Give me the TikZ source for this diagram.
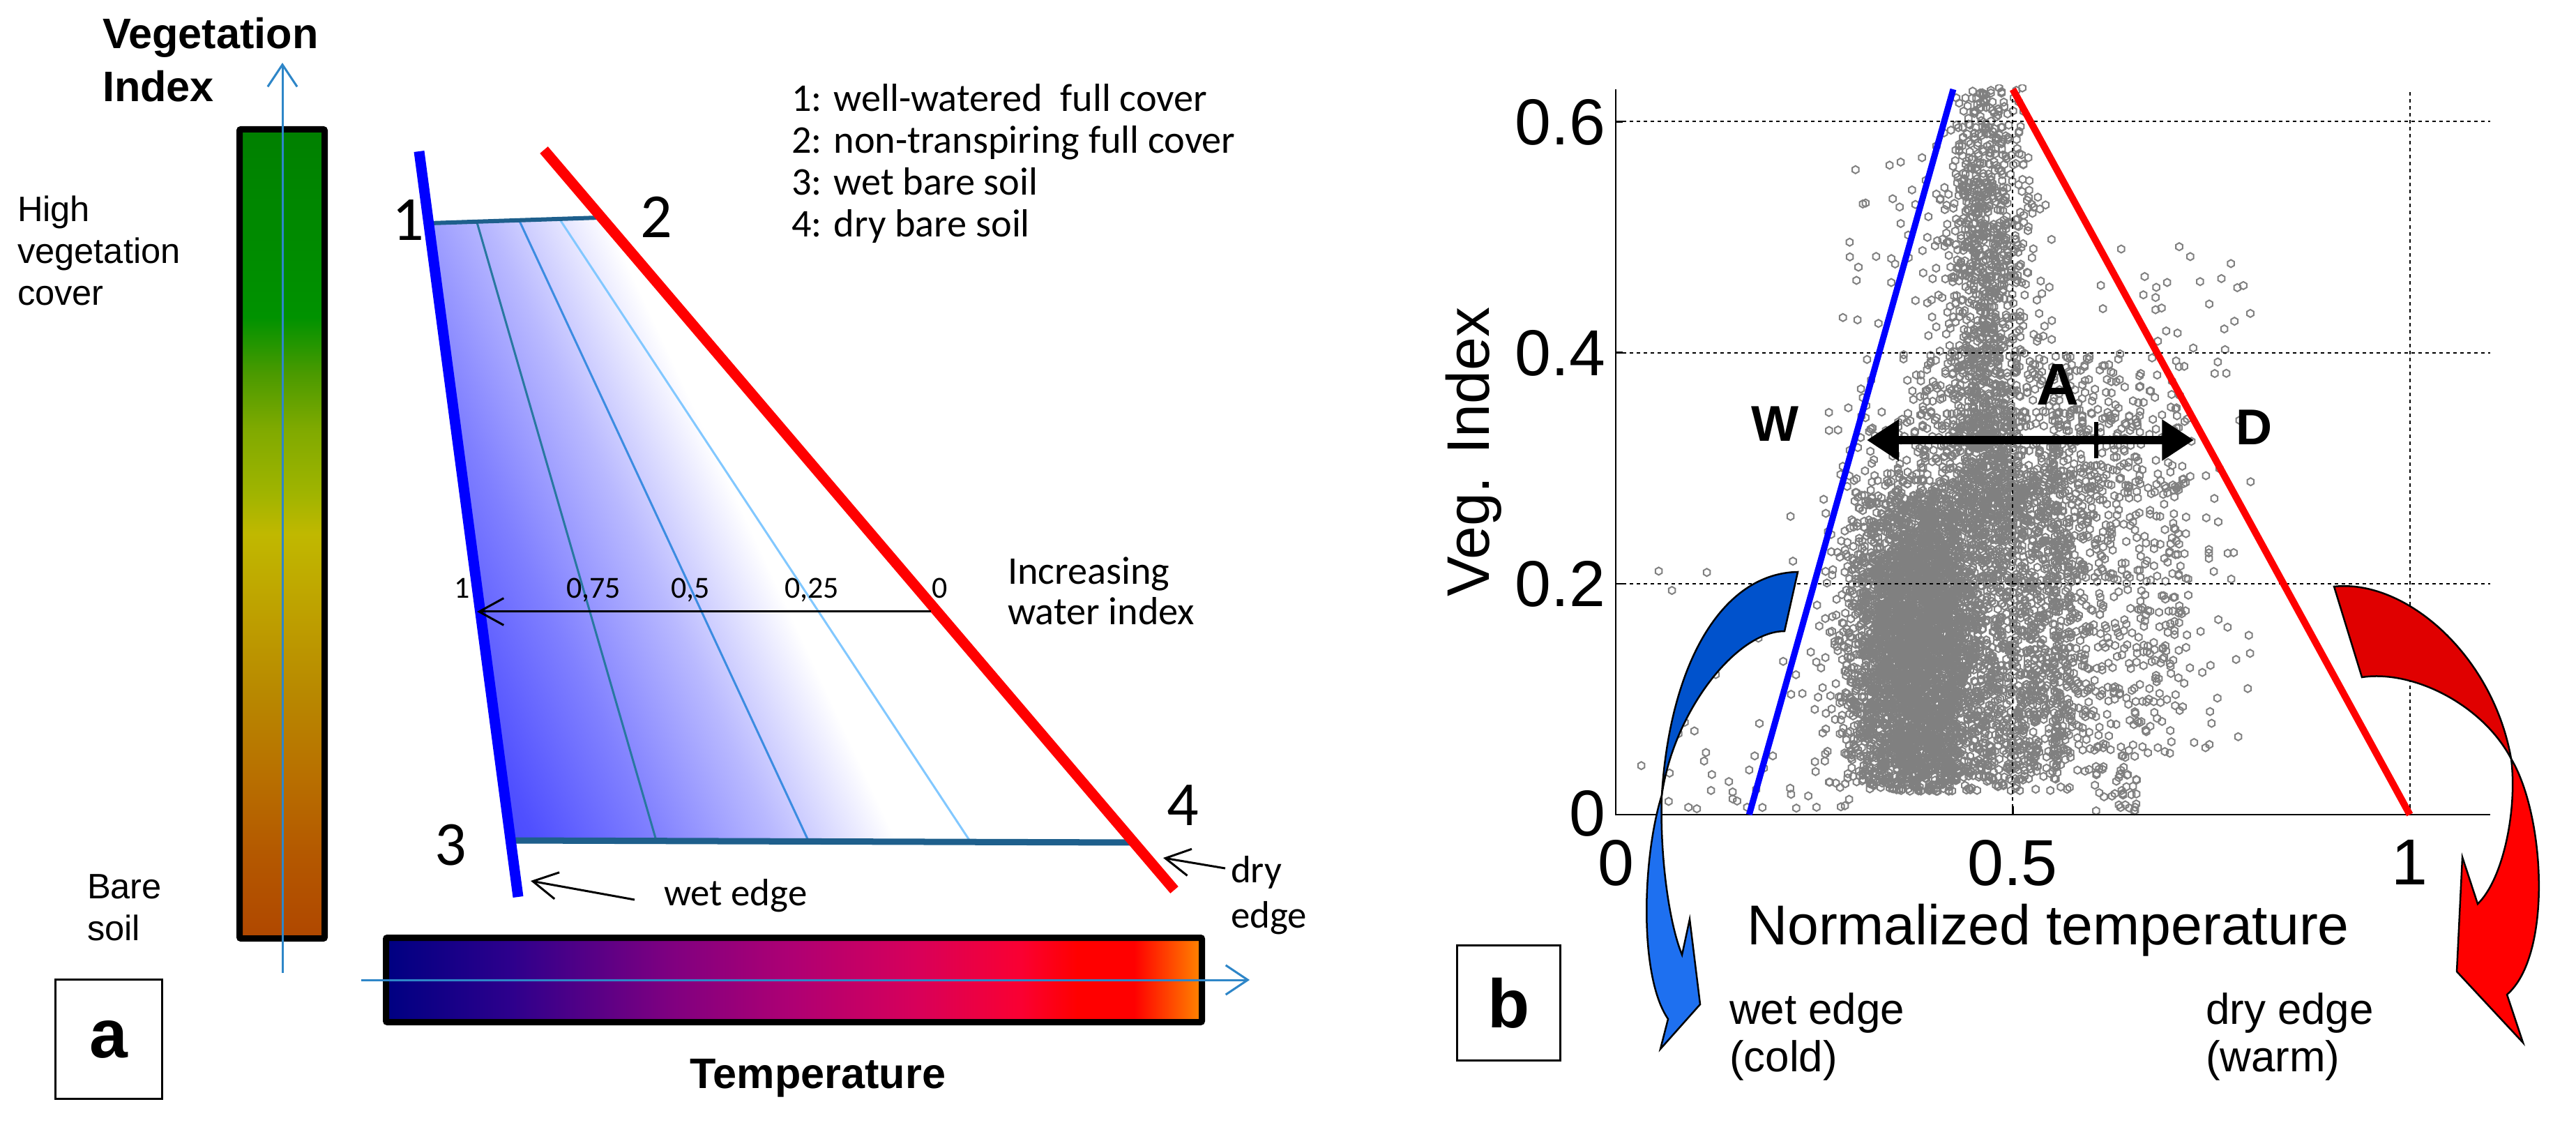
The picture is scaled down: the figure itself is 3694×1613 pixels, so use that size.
\documentclass[tikz,border=0pt]{standalone}
\usepackage{fontspec}
\setmainfont{Liberation Sans}
\newfontfamily\calfont{Carlito}
\usetikzlibrary{arrows.meta}
\newdimen\pxl \pxl=0.28453pt
% colours
\definecolor{axblue}{RGB}{46,134,200}
\definecolor{edgeblue}{RGB}{0,0,255}
\definecolor{edgered}{RGB}{255,0,0}
\definecolor{rimteal}{RGB}{30,95,140}
\definecolor{isoA}{RGB}{40,120,160}
\definecolor{isoB}{RGB}{60,140,225}
\definecolor{isoC}{RGB}{130,200,255}
\definecolor{cblueA}{RGB}{0,82,204}
\definecolor{cblueB}{RGB}{30,112,240}
\definecolor{credA}{RGB}{224,0,0}
\definecolor{credB}{RGB}{255,0,0}
\definecolor{scatgray}{RGB}{128,128,128}
\definecolor{vg0}{RGB}{176,72,0}
\definecolor{vg1}{RGB}{180,88,0}
\definecolor{vg2}{RGB}{184,112,0}
\definecolor{vg3}{RGB}{184,136,0}
\definecolor{vg4}{RGB}{190,160,0}
\definecolor{vg5}{RGB}{192,184,0}
\definecolor{vg6}{RGB}{160,180,0}
\definecolor{vg7}{RGB}{128,170,0}
\definecolor{vg8}{RGB}{74,154,0}
\definecolor{vg9}{RGB}{0,146,0}
\definecolor{vg10}{RGB}{0,128,0}
\definecolor{tp0}{RGB}{0,0,130}
\definecolor{tp1}{RGB}{45,0,140}
\definecolor{tp2}{RGB}{128,0,128}
\definecolor{tp3}{RGB}{175,0,115}
\definecolor{tp4}{RGB}{215,0,90}
\definecolor{tp5}{RGB}{250,0,50}
\definecolor{tp6}{RGB}{255,0,0}
\definecolor{tp7}{RGB}{255,0,0}
\definecolor{tp8}{RGB}{255,128,0}
\definecolor{ws0}{RGB}{60,60,255}
\definecolor{ws1}{RGB}{80,80,255}
\definecolor{ws2}{RGB}{128,128,255}
\definecolor{ws3}{RGB}{185,185,255}
\pgfdeclareverticalshading{vegshade}{100bp}{color(0bp)=(vg0); color(25bp)=(vg0); color(30bp)=(vg1); color(35bp)=(vg2); color(40bp)=(vg3); color(45bp)=(vg4); color(50bp)=(vg5); color(52.5bp)=(vg6); color(56.5bp)=(vg7); color(60bp)=(vg8); color(63.5bp)=(vg9); color(75bp)=(vg10); color(100bp)=(vg10)}
\pgfdeclarehorizontalshading{tempshade}{100bp}{color(0bp)=(tp0); color(25bp)=(tp0); color(32.5bp)=(tp1); color(42.5bp)=(tp2); color(50bp)=(tp3); color(57.5bp)=(tp4); color(64bp)=(tp5); color(67.5bp)=(tp6); color(71bp)=(tp7); color(75bp)=(tp8); color(100bp)=(tp8)}
\pgfdeclarehorizontalshading{wetshade}{100bp}{color(0bp)=(ws0); color(18bp)=(ws0); color(24bp)=(ws1); color(32bp)=(ws2); color(40bp)=(ws3); color(48bp)=(white); color(100bp)=(white)}
\tikzset{
 lbl/.style={inner sep=0pt, outer sep=0pt},
 axarrow/.style={draw=axblue, line width=3\pxl, -{Straight Barb[length=9pt,width=12pt]}},
 thinarrow/.style={draw=black, line width=3\pxl, -{Straight Barb[length=10pt,width=11pt]}},
 barframe/.style={draw=black, line width=9\pxl, rounded corners=2\pxl},
 gridln/.style={draw=black, line width=2\pxl, dash pattern=on 5\pxl off 5\pxl},
 axisln/.style={draw=black, line width=2.5\pxl},
 scat/.style={draw=scatgray, line width=2\pxl},
 mk/.style={insert path={++(0pt,1.565pt) -- ++(1.355pt,-0.783pt) -- ++(0pt,-1.565pt) -- ++(-1.355pt,-0.783pt) -- ++(-1.355pt,0.783pt) -- ++(0pt,1.565pt) -- cycle}},
 curv/.style={draw=black, line width=2.5\pxl, line join=miter},
 letterbox/.style={draw=black, line width=3\pxl, inner sep=0pt, font=\bfseries\fontsize{28}{33}\selectfont},
 legfont/.style={lbl, anchor=base west, font=\calfont\fontsize{16}{19}\selectfont},
 bigdigit/.style={lbl, anchor=base, font=\calfont\fontsize{25.6}{30}\selectfont},
 widx/.style={lbl, anchor=base, font=\calfont\fontsize{12.5}{15}\selectfont},
 sidefont/.style={lbl, anchor=base west, font=\fontsize{14.4}{17}\selectfont},
 ticklbl/.style={lbl, font=\fontsize{26.5}{31}\selectfont},
 edgelbl/.style={lbl, anchor=base west, font=\fontsize{17.6}{21}\selectfont},
}
\begin{document}
\begin{tikzpicture}[x=0.01cm,y=-0.01cm]
\fill[white] (0,0) rectangle (3694,1613);
\useasboundingbox (0,0) rectangle (3694,1613);

% ================= panel a =================
% vertical vegetation bar
\shade[shading=vegshade] (348,190) rectangle (461,1341);
\draw[barframe] (343.5,185.5) rectangle (465.5,1345.5);
\coordinate (vbot) at (405,1395);
\coordinate (vtop) at (405,90);
\draw[axarrow] (vbot) -- (vtop);
\node[lbl, anchor=base west, font=\bfseries\fontsize{17.4}{21}\selectfont] (vegA) at (147,70) {Vegetation};
\node[lbl, anchor=base west, font=\bfseries\fontsize{17.4}{21}\selectfont] (vegB) at (147,146) {Index};
\node[sidefont] (hv1) at (25,318) {High};
\node[sidefont] (hv2) at (25,378) {vegetation};
\node[sidefont] (hv3) at (25,438) {cover};
\node[sidefont] (bs1) at (125,1288) {Bare};
\node[sidefont] (bs2) at (125,1348) {soil};
\node[letterbox, minimum width=1.52cm, minimum height=1.71cm] (boxa) at (156,1490) {a};

% temperature bar
\shade[shading=tempshade] (558,1349) rectangle (1719,1461);
\draw[barframe] (553.5,1344.5) rectangle (1723.5,1465.5);
\coordinate (hleft) at (518,1405);
\coordinate (hright) at (1792,1405);
\draw[axarrow] (hleft) -- (hright);
\node[lbl, anchor=base, font=\bfseries\fontsize{17.4}{21}\selectfont] (templbl) at (1173,1560) {Temperature};

% trapezoid
\shade[shading=wetshade, shading angle=25] (615,320) -- (862,312) -- (1626,1208) -- (732,1204) -- cycle;
\draw[isoA, line width=3\pxl] (684,319) -- (941,1205);
\draw[isoB, line width=3\pxl] (745,317) -- (1159,1205);
\draw[isoC, line width=3\pxl] (803,315) -- (1391,1206);
\draw[rimteal, line width=6\pxl] (617,320) -- (860,312);
\draw[rimteal, line width=9\pxl] (735,1205) -- (1622,1208);
\coordinate (wetT) at (601,217);
\coordinate (wetB) at (743,1286);
\coordinate (dryT) at (780,215);
\coordinate (dryB) at (1684,1276);
\draw[edgeblue, line width=15\pxl] (wetT) -- (wetB);
\draw[edgered, line width=15\pxl] (dryT) -- (dryB);

\node[bigdigit] (d1) at (585,345) {1};
\node[bigdigit] (d2) at (941,341) {2};
\node[bigdigit] (d3) at (646,1240) {3};
\node[bigdigit] (d4) at (1696,1183) {4};

\node[legfont] (leg1) at (1135,160) {1: well-watered~ full cover};
\node[legfont] (leg2) at (1135,220) {2: non-transpiring full cover};
\node[legfont] (leg3) at (1135,280) {3: wet bare soil};
\node[legfont] (leg4) at (1135,340) {4: dry bare soil};

\node[legfont] (inc1) at (1445,838) {Increasing};
\node[legfont] (inc2) at (1445,896) {water index};
\node[widx] (w1) at (663,858) {1};
\node[widx] (w75) at (851,858) {0,75};
\node[widx] (w50) at (990,858) {0,5};
\node[widx] (w25) at (1164,858) {0,25};
\node[widx] (w0) at (1348,858) {0};
\coordinate (waS) at (1335,877);
\coordinate (waE) at (684,877);
\draw[thinarrow] (waS) -- (waE);

\node[lbl, anchor=base west, font=\calfont\fontsize{15.6}{19}\selectfont] (wetlbl) at (952,1298) {wet edge};
\coordinate (weS) at (910,1290);
\coordinate (weE) at (761,1263);
\draw[thinarrow] (weS) -- (weE);
\node[lbl, anchor=base west, font=\calfont\fontsize{15.6}{19}\selectfont] (drylbl1) at (1765,1265) {dry};
\node[lbl, anchor=base west, font=\calfont\fontsize{15.6}{19}\selectfont] (drylbl2) at (1765,1330) {edge};
\coordinate (deS) at (1757,1245);
\coordinate (deE) at (1668,1230);
\draw[thinarrow] (deS) -- (deE);

% ================= panel b =================
\pgfmathsetseed{4217}
\begin{scope}[shift={(2317,1168)}]
\begin{scope}[x=11.38cm, y=16.55cm]
\begin{scope}
\clip (-0.1,-0.03) rectangle (1.2,0.632);
% dense core
\draw[scat] foreach \i in {1,...,1500} {({0.385+0.09*(rnd+rnd+rnd-1.5)},{0.02+0.26*rnd}) [mk]};
\draw[scat] foreach \i in {1,...,1500} {({0.39+0.085*(rnd+rnd+rnd-1.5)},{0.02+0.14*(rnd+rnd)}) [mk]};
\draw[scat] foreach \i in {1,...,900} {({0.36+0.07*(rnd+rnd+rnd-1.5)},{0.025+0.2*rnd}) [mk]};
\draw[scat] foreach \i in {1,...,600} {({0.52+0.06*(rnd+rnd-1)},{0.03+0.27*rnd}) [mk]};
% wider cloud
\draw[scat] foreach \i in {1,...,1000} {({0.45+0.2*(rnd+rnd-1)},{0.02+0.33*rnd}) [mk]};
% column
\draw[scat] foreach \i in {1,...,900} {({0.466+0.04*(rnd+rnd+rnd-1.5)},{0.25+0.38*rnd}) [mk]};
\draw[scat] foreach \i in {1,...,450} {({0.465+0.1*(rnd+rnd-1)},{0.25+0.3*rnd}) [mk]};
% right scatter
\draw[scat] foreach \i in {1,...,400} {({0.55+0.22*rnd*rnd},{0.05+0.35*rnd}) [mk]};
\draw[scat] foreach \i in {1,...,300} {({0.55+0.17*rnd},{0.05+0.3*rnd}) [mk]};
\draw[scat] foreach \i in {1,...,120} {({0.6+0.2*rnd},{0.05+0.45*rnd}) [mk]};
% left and sparse scatter
\draw[scat] foreach \i in {1,...,60} {({0.03+0.27*rnd},{0.005+0.28*rnd*rnd}) [mk]};
\draw[scat] foreach \i in {1,...,35} {({0.6+0.06*rnd},{0.003+0.04*rnd}) [mk]};
\draw[scat] foreach \i in {1,...,40} {({0.28+0.16*rnd},{0.3+0.28*rnd}) [mk]};
\draw[scat] foreach \i in {1,...,350} {({0.47+0.17*(rnd+rnd-1)},{0.2+0.2*rnd}) [mk]};
\end{scope}
% grid
\draw[gridln] (0,0.2) -- (1.101,0.2);
\draw[gridln] (0,0.4) -- (1.101,0.4);
\draw[gridln] (0,0.6) -- (1.101,0.6);
\draw[gridln] (0.5,0) -- (0.5,0.628);
\draw[gridln] (1,0) -- (1,0.628);
% axes
\coordinate (axTop) at (0,0.628);
\coordinate (axO) at (0,0);
\coordinate (axR) at (1.101,0);
\draw[axisln] (axTop) -- (axO) -- (axR);
\foreach \tx in {0.5,1} \draw[axisln] (\tx,0) -- ++(0,0.007);
\foreach \ty in {0.2,0.4,0.6} \draw[axisln] (0,\ty) -- ++(0.009,0);
% edges
\coordinate (bwB) at (0.168,0);
\coordinate (bwT) at (0.425,0.628);
\coordinate (bdT) at (0.5,0.628);
\coordinate (bdB) at (1,0);
\draw[edgeblue, line width=9\pxl] (bwB) -- (bwT);
\draw[edgered, line width=10\pxl] (bdT) -- (bdB);
\end{scope}
\end{scope}

% tick labels
\node[ticklbl, anchor=east] (y0) at (2302,1166) {0};
\node[ticklbl, anchor=east] (y2) at (2302,837) {0.2};
\node[ticklbl, anchor=east] (y4) at (2302,506) {0.4};
\node[ticklbl, anchor=east] (y6) at (2302,175) {0.6};
\node[ticklbl, anchor=north] (x0) at (2317,1204) {0};
\node[ticklbl, anchor=north] (x5) at (2886,1204) {0.5};
\node[ticklbl, anchor=north] (x1) at (3455,1204) {1};
\node[lbl, rotate=90, font=\fontsize{24.5}{29}\selectfont] (ylab) at (2113,648) {Veg. Index};
\node[lbl, anchor=base, font=\fontsize{22.9}{27}\selectfont] (xlab) at (2937,1354) {Normalized temperature};

% double arrow
\node[lbl, anchor=base, font=\bfseries\fontsize{20.5}{24}\selectfont] (W) at (2545,633) {W};
\node[lbl, anchor=base, font=\bfseries\fontsize{24}{28}\selectfont] (A) at (2951,581) {A};
\node[lbl, anchor=base, font=\bfseries\fontsize{20.5}{24}\selectfont] (D) at (3232,638) {D};
\coordinate (daL) at (2677,631);
\coordinate (daR) at (3146,631);
\draw[black, line width=12\pxl, {Triangle[length=13pt,width=16pt]}-{Triangle[length=13pt,width=16pt]}] (daL) -- (daR);
\coordinate (tkT) at (3006,605);
\coordinate (tkB) at (3006,657);
\draw[black, line width=6\pxl] (tkT) -- (tkB);

% labels b
\node[letterbox, minimum width=1.47cm, minimum height=1.64cm] (boxb) at (2163.5,1438) {b};
\node[edgelbl] (we1) at (2480,1468) {wet edge};
\node[edgelbl] (we2) at (2480,1536) {(cold)};
\node[edgelbl] (de1) at (3163,1468) {dry edge};
\node[edgelbl] (de2) at (3163,1536) {(warm)};

% curved blue arrow
\fill[cblueA] (2578,820) .. controls (2470,822) and (2395,950) .. (2383,1140) .. controls (2400,1020) and (2490,905) .. (2559,905) -- cycle;
\draw[curv] (2578,820) .. controls (2470,822) and (2395,950) .. (2383,1140) .. controls (2400,1020) and (2490,905) .. (2559,905) -- cycle;
\fill[cblueB] (2383,1140) .. controls (2355,1230) and (2350,1400) .. (2392,1461) -- (2381,1504) -- (2438,1440) -- (2423,1318) -- (2412,1369) .. controls (2392,1320) and (2380,1220) .. (2383,1140) -- cycle;
\draw[curv] (2383,1140) .. controls (2355,1230) and (2350,1400) .. (2392,1461) -- (2381,1504) -- (2438,1440) -- (2423,1318) -- (2412,1369) .. controls (2392,1320) and (2380,1220) .. (2383,1140) -- cycle;

% curved red arrow
\fill[credA] (3347,841) .. controls (3450,830) and (3575,940) .. (3601,1088) .. controls (3560,1010) and (3460,960) .. (3387,971) -- cycle;
\draw[curv] (3347,841) .. controls (3450,830) and (3575,940) .. (3601,1088) .. controls (3560,1010) and (3460,960) .. (3387,971) -- cycle;
\fill[credB] (3601,1088) .. controls (3650,1170) and (3660,1370) .. (3595,1426) -- (3618,1495) -- (3523,1393) -- (3531,1229) -- (3553,1296) .. controls (3590,1260) and (3610,1160) .. (3601,1088) -- cycle;
\draw[curv] (3601,1088) .. controls (3650,1170) and (3660,1370) .. (3595,1426) -- (3618,1495) -- (3523,1393) -- (3531,1229) -- (3553,1296) .. controls (3590,1260) and (3610,1160) .. (3601,1088) -- cycle;
\end{tikzpicture}
\end{document}
